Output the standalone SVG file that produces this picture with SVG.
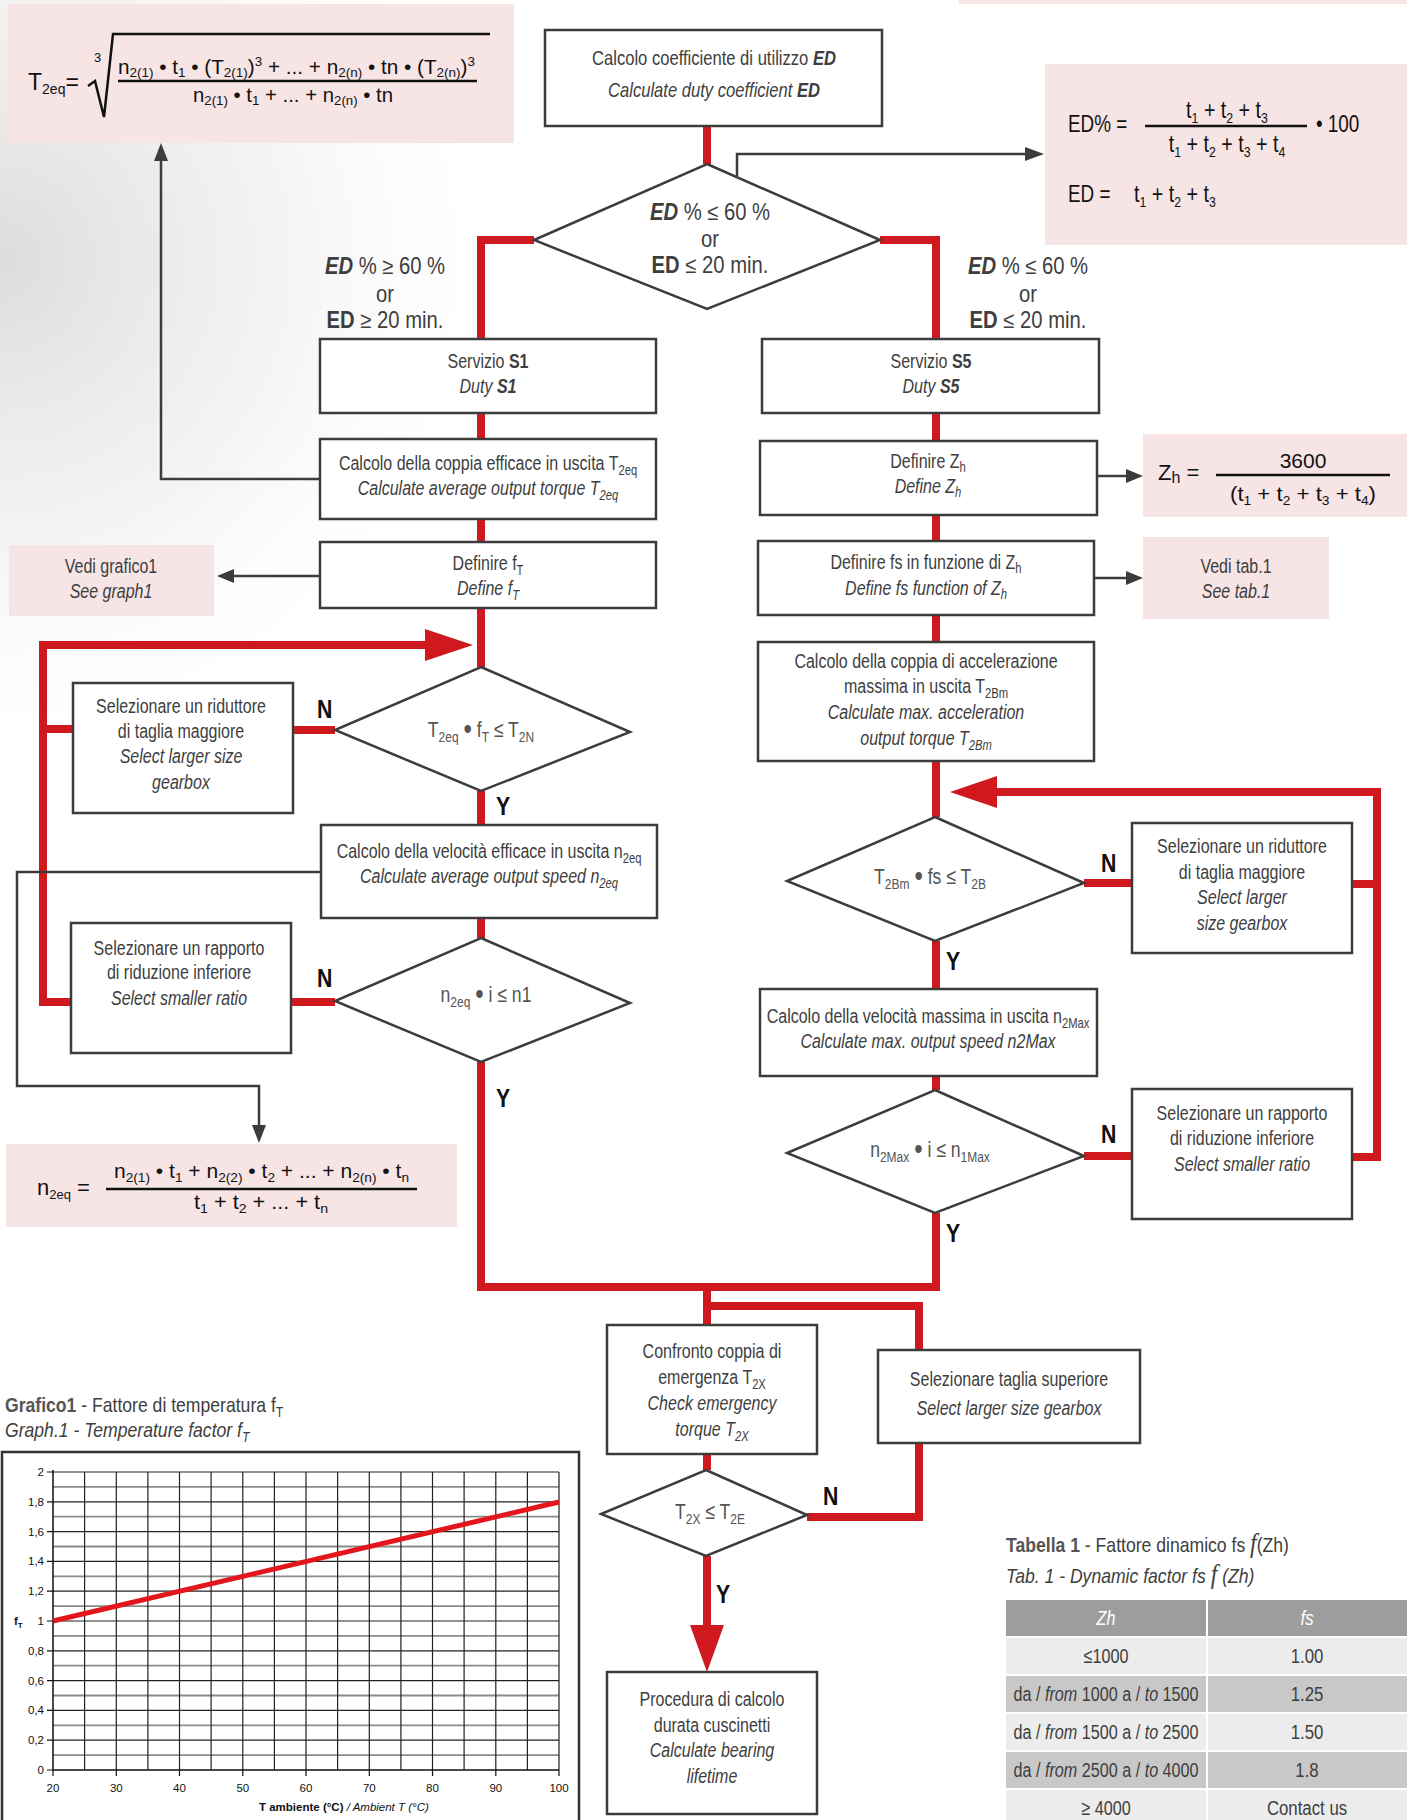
<svg xmlns="http://www.w3.org/2000/svg" width="1407" height="1820" viewBox="0 0 1407 1820">
<defs>
<radialGradient id="bg" cx="0" cy="260" r="520" gradientUnits="userSpaceOnUse">
<stop offset="0" stop-color="#dcdcdc"/>
<stop offset="0.55" stop-color="#ececec" stop-opacity="0.6"/>
<stop offset="1" stop-color="#ffffff" stop-opacity="0"/>
</radialGradient>
<style>
.t{font-family:"Liberation Sans",Arial,sans-serif;font-size:20px;fill:#3e3e3e;text-anchor:middle}
.ts{font-family:"Liberation Sans",Arial,sans-serif;font-size:20px;fill:#3e3e3e}
.d{font-size:22px;fill:#555}
.i{font-style:italic}
.b{font-weight:bold}
.bi{font-weight:bold;font-style:italic}
.s{font-size:14px}
.ds{font-size:15px}
.box{fill:#fff;stroke:#3c3c3c;stroke-width:2.5}
.pink{fill:#f7e4e5}
.red{fill:none;stroke:#d0181f;stroke-width:8}
.redf{fill:#d0181f}
.gl{fill:none;stroke:#3c3c3c;stroke-width:2.5}
.gf{fill:#3c3c3c}
.yn{font-family:"Liberation Sans",Arial,sans-serif;font-weight:bold;font-size:25px;fill:#111}
.f{font-family:"Liberation Sans",Arial,sans-serif;fill:#111}
.bar{stroke:#111;stroke-width:2.5}
.ax{font-family:"Liberation Sans",Arial,sans-serif;font-size:11.5px;fill:#111}
.gmaj{stroke:#222;stroke-width:1.2;fill:none}
.gmin{stroke:#8a8a8a;stroke-width:1.8;fill:none}
</style>
</defs>
<rect width="1407" height="1820" fill="#fff"/>
<rect x="0" y="0" width="560" height="800" fill="url(#bg)"/>
<rect class="pink" x="959" y="0" width="448" height="4"/>

<!-- T2eq formula -->
<g id="f-t2eq">
<rect class="pink" x="8" y="4" width="506" height="139"/>
<text class="f" x="28" y="90" font-size="23">T<tspan font-size="14" dy="4">2eq</tspan><tspan dy="-4">=</tspan></text>
<path d="M88,86 L95,81 L104,117 L113,34 L490,34" fill="none" stroke="#111" stroke-width="2.5"/>
<text class="f" x="94" y="62" font-size="13">3</text>
<text class="f" x="118" y="74" font-size="20" textLength="357" lengthAdjust="spacingAndGlyphs">n<tspan font-size="13" dy="3">2(1)</tspan><tspan dy="-3"> • t</tspan><tspan font-size="13" dy="3">1</tspan><tspan dy="-3"> • (T</tspan><tspan font-size="13" dy="3">2(1)</tspan><tspan dy="-3">)</tspan><tspan font-size="13" dy="-8">3</tspan><tspan dy="8"> + ... + n</tspan><tspan font-size="13" dy="3">2(n)</tspan><tspan dy="-3"> • tn • (T</tspan><tspan font-size="13" dy="3">2(n)</tspan><tspan dy="-3">)</tspan><tspan font-size="13" dy="-8">3</tspan></text>
<line class="bar" x1="118" y1="81" x2="477" y2="81"/>
<text class="f" x="193" y="102" font-size="20" textLength="200" lengthAdjust="spacingAndGlyphs">n<tspan font-size="13" dy="3">2(1)</tspan><tspan dy="-3"> • t</tspan><tspan font-size="13" dy="3">1</tspan><tspan dy="-3"> + ... + n</tspan><tspan font-size="13" dy="3">2(n)</tspan><tspan dy="-3"> • tn</tspan></text>
</g>

<!-- ED formula -->
<g id="f-ed">
<rect class="pink" x="1045" y="64" width="362" height="181"/>
<g transform="translate(1068 0) scale(0.82 1)">
<text class="f" y="132" font-size="23">ED% =</text>
<text class="f" y="202" font-size="23">ED =</text>
</g>
<g transform="translate(1227 0) scale(0.82 1)">
<text class="f" y="118" font-size="24" text-anchor="middle">t<tspan font-size="15" dy="5">1</tspan><tspan dy="-5"> + t</tspan><tspan font-size="15" dy="5">2</tspan><tspan dy="-5"> + t</tspan><tspan font-size="15" dy="5">3</tspan></text>
<text class="f" y="152" font-size="24" text-anchor="middle">t<tspan font-size="15" dy="5">1</tspan><tspan dy="-5"> + t</tspan><tspan font-size="15" dy="5">2</tspan><tspan dy="-5"> + t</tspan><tspan font-size="15" dy="5">3</tspan><tspan dy="-5"> + t</tspan><tspan font-size="15" dy="5">4</tspan></text>
</g>
<line class="bar" x1="1145" y1="126" x2="1307" y2="126"/>
<g transform="translate(1316 0) scale(0.82 1)">
<text class="f" y="132" font-size="23">• 100</text>
</g>
<g transform="translate(1134 0) scale(0.82 1)">
<text class="f" y="202" font-size="24">t<tspan font-size="15" dy="5">1</tspan><tspan dy="-5"> + t</tspan><tspan font-size="15" dy="5">2</tspan><tspan dy="-5"> + t</tspan><tspan font-size="15" dy="5">3</tspan></text>
</g>
</g>

<!-- Zh formula -->
<g id="f-zh">
<rect class="pink" x="1143" y="434" width="264" height="83"/>
<text class="f" x="1158" y="480" font-size="22">Z<tspan font-size="16" dy="3">h</tspan><tspan dy="-3"> =</tspan></text>
<text class="f" x="1303" y="468" font-size="21" text-anchor="middle">3600</text>
<line class="bar" x1="1216" y1="475" x2="1390" y2="475"/>
<text class="f" x="1230" y="501" font-size="21" textLength="146" lengthAdjust="spacingAndGlyphs">(t<tspan font-size="13" dy="4">1</tspan><tspan dy="-4"> + t</tspan><tspan font-size="13" dy="4">2</tspan><tspan dy="-4"> + t</tspan><tspan font-size="13" dy="4">3</tspan><tspan dy="-4"> + t</tspan><tspan font-size="13" dy="4">4</tspan><tspan dy="-4">)</tspan></text>
</g>

<!-- n2eq formula -->
<g id="f-n2eq">
<rect class="pink" x="6" y="1144" width="451" height="83"/>
<text class="f" x="37" y="1195" font-size="22">n<tspan font-size="13" dy="4">2eq</tspan><tspan dy="-4"> =</tspan></text>
<text class="f" x="114" y="1178" font-size="20" textLength="295" lengthAdjust="spacingAndGlyphs">n<tspan font-size="13" dy="4">2(1)</tspan><tspan dy="-4"> • t</tspan><tspan font-size="13" dy="4">1</tspan><tspan dy="-4"> + n</tspan><tspan font-size="13" dy="4">2(2)</tspan><tspan dy="-4"> • t</tspan><tspan font-size="13" dy="4">2</tspan><tspan dy="-4"> + ... + n</tspan><tspan font-size="13" dy="4">2(n)</tspan><tspan dy="-4"> • t</tspan><tspan font-size="13" dy="4">n</tspan></text>
<line class="bar" x1="106" y1="1189" x2="417" y2="1189"/>
<text class="f" x="194" y="1209" font-size="20" textLength="134" lengthAdjust="spacingAndGlyphs">t<tspan font-size="13" dy="4">1</tspan><tspan dy="-4"> + t</tspan><tspan font-size="13" dy="4">2</tspan><tspan dy="-4"> + ... + t</tspan><tspan font-size="13" dy="4">n</tspan></text>
</g>

<!-- connectors -->
<g id="connectors">
<path class="red" d="M707,126 V164"/>
<path class="red" d="M534,240 H481 V339"/>
<path class="red" d="M880,240 H936 V339"/>
<path class="red" d="M481,413 V439 M481,519 V542 M481,608 V667 M481,791 V825 M481,918 V938"/>
<path class="red" d="M481,1062 V1287 H936 V1213"/>
<path class="red" d="M936,413 V441 M936,515 V541 M936,615 V642 M936,761 V817 M936,941 V989 M936,1076 V1090"/>
<path class="red" d="M335,730 H293 M73,729 H43 M335,1002 H291 M71,1002 H43 V645 H428"/>
<polygon class="redf" points="425,629 473,645 425,661"/>
<path class="red" d="M1084,883 H1132 M1352,884 H1377 M1084,1156 H1132 M1352,1157 H1377 V792 H994"/>
<polygon class="redf" points="997,776 950,792 997,808"/>
<path class="red" d="M707,1287 V1325 M707,1306 H919 V1350 M919,1443 V1517 H807 M707,1454 V1470 M707,1556 V1628"/>
<polygon class="redf" points="690,1625 707,1672 724,1625"/>

<path class="gl" d="M737,176 V154 H1027"/>
<polygon class="gf" points="1025,147 1044,154 1025,161"/>
<path class="gl" d="M320,479 H161 V160"/>
<polygon class="gf" points="154,161 161,143 168,161"/>
<path class="gl" d="M320,576 H232"/>
<polygon class="gf" points="234,569 217,576 234,583"/>
<path class="gl" d="M1097,476 H1128"/>
<polygon class="gf" points="1126,469 1143,476 1126,483"/>
<path class="gl" d="M1094,578 H1128"/>
<polygon class="gf" points="1126,571 1143,578 1126,585"/>
<path class="gl" d="M321,872 H17 V1086 H259 V1127"/>
<polygon class="gf" points="252,1125 259,1143 266,1125"/>

<g transform="translate(317 0) scale(0.85 1)"><text class="yn" y="718">N</text><text class="yn" y="987">N</text></g>
<g transform="translate(496 0) scale(0.85 1)"><text class="yn" y="815">Y</text><text class="yn" y="1107">Y</text></g>
<g transform="translate(1101 0) scale(0.85 1)"><text class="yn" y="872">N</text><text class="yn" y="1143">N</text></g>
<g transform="translate(946 0) scale(0.85 1)"><text class="yn" y="970">Y</text><text class="yn" y="1242">Y</text></g>
<g transform="translate(823 0) scale(0.85 1)"><text class="yn" y="1505">N</text></g>
<g transform="translate(716 0) scale(0.85 1)"><text class="yn" y="1603">Y</text></g>
</g>

<!-- nodes -->
<g id="n-ed">
<rect class="box" x="545" y="30" width="337" height="96"/>
<g transform="translate(714 0) scale(0.83 1)">
<text class="t" y="65">Calcolo coefficiente di utilizzo <tspan class="bi">ED</tspan></text>
<text class="t i" y="97">Calculate duty coefficient <tspan class="b">ED</tspan></text>
</g>
</g>

<g id="d-ed">
<polygon class="box" points="707,164 880,240 707,309 534,240"/>
<g transform="translate(710 0) scale(0.88 1)">
<text class="t" style="font-size:23px" y="220"><tspan class="bi">ED</tspan> % ≤ 60 %</text>
<text class="t" style="font-size:23px" y="247">or</text>
<text class="t" style="font-size:23px" y="273"><tspan class="b">ED</tspan> ≤ 20 min.</text>
</g>
</g>

<g id="lbl-left">
<g transform="translate(385 0) scale(0.88 1)">
<text class="t" style="font-size:23px" y="274"><tspan class="bi">ED</tspan> % ≥ 60 %</text>
<text class="t" style="font-size:23px" y="302">or</text>
<text class="t" style="font-size:23px" y="328"><tspan class="b">ED</tspan> ≥ 20 min.</text>
</g>
</g>
<g id="lbl-right">
<g transform="translate(1028 0) scale(0.88 1)">
<text class="t" style="font-size:23px" y="274"><tspan class="bi">ED</tspan> % ≤ 60 %</text>
<text class="t" style="font-size:23px" y="302">or</text>
<text class="t" style="font-size:23px" y="328"><tspan class="b">ED</tspan> ≤ 20 min.</text>
</g>
</g>

<g id="n-s1">
<rect class="box" x="320" y="339" width="336" height="74"/>
<g transform="translate(488 0) scale(0.8 1)">
<text class="t" y="368">Servizio <tspan class="b">S1</tspan></text>
<text class="t i" y="393">Duty <tspan class="b">S1</tspan></text>
</g>
</g>

<g id="n-s5">
<rect class="box" x="762" y="339" width="337" height="74"/>
<g transform="translate(931 0) scale(0.8 1)">
<text class="t" y="368">Servizio <tspan class="b">S5</tspan></text>
<text class="t i" y="393">Duty <tspan class="b">S5</tspan></text>
</g>
</g>

<g id="n-t2eq">
<rect class="box" x="320" y="439" width="336" height="80"/>
<g transform="translate(488 0) scale(0.8 1)">
<text class="t" y="470">Calcolo della coppia efficace in uscita T<tspan class="s" dy="5">2eq</tspan></text>
<text class="t i" y="495">Calculate average output torque T<tspan class="s" dy="5">2eq</tspan></text>
</g>
</g>

<g id="n-zh">
<rect class="box" x="760" y="441" width="337" height="74"/>
<g transform="translate(928 0) scale(0.8 1)">
<text class="t" y="468">Definire Z<tspan class="s" dy="4">h</tspan></text>
<text class="t i" y="493">Define Z<tspan class="s" dy="4">h</tspan></text>
</g>
</g>

<g id="n-ft">
<rect class="box" x="320" y="542" width="336" height="66"/>
<g transform="translate(488 0) scale(0.8 1)">
<text class="t" y="570">Definire f<tspan class="s" dy="5">T</tspan></text>
<text class="t i" y="595">Define f<tspan class="s" dy="5">T</tspan></text>
</g>
</g>

<g id="n-fs">
<rect class="box" x="758" y="541" width="336" height="74"/>
<g transform="translate(926 0) scale(0.8 1)">
<text class="t" y="569">Definire fs in funzione di Z<tspan class="s" dy="4">h</tspan></text>
<text class="t i" y="595">Define fs function of Z<tspan class="s" dy="4">h</tspan></text>
</g>
</g>

<g id="n-graph-ref">
<rect class="pink" x="9" y="545" width="205" height="71"/>
<g transform="translate(111 0) scale(0.8 1)">
<text class="t" y="573">Vedi grafico1</text>
<text class="t i" y="598">See graph1</text>
</g>
</g>

<g id="n-tab-ref">
<rect class="pink" x="1143" y="537" width="186" height="82"/>
<g transform="translate(1236 0) scale(0.8 1)">
<text class="t" y="573">Vedi tab.1</text>
<text class="t i" y="598">See tab.1</text>
</g>
</g>

<g id="n-accel">
<rect class="box" x="758" y="642" width="336" height="119"/>
<g transform="translate(926 0) scale(0.8 1)">
<text class="t" y="668">Calcolo della coppia di accelerazione</text>
<text class="t" y="693">massima in uscita T<tspan class="s" dy="5">2Bm</tspan></text>
<text class="t i" y="719">Calculate max. acceleration</text>
<text class="t i" y="745">output torque T<tspan class="s" dy="5">2Bm</tspan></text>
</g>
</g>

<g id="n-larger-l">
<rect class="box" x="73" y="683" width="220" height="130"/>
<g transform="translate(181 0) scale(0.8 1)">
<text class="t" y="713">Selezionare un riduttore</text>
<text class="t" y="738">di taglia maggiore</text>
<text class="t i" y="763">Select larger size</text>
<text class="t i" y="789">gearbox</text>
</g>
</g>

<g id="d-t2n">
<polygon class="box" points="481,667 630,732 481,791 335,730"/>
<g transform="translate(481 0) scale(0.8 1)">
<text class="t d" y="737">T<tspan class="ds" dy="5">2eq</tspan><tspan dy="-5"> </tspan><tspan font-size="30" dy="2">•</tspan><tspan dy="-2"> f</tspan><tspan class="ds" dy="5">T</tspan><tspan dy="-5"> ≤ T</tspan><tspan class="ds" dy="5">2N</tspan></text>
</g>
</g>

<g id="n-n2eq">
<rect class="box" x="321" y="825" width="336" height="93"/>
<g transform="translate(489 0) scale(0.8 1)">
<text class="t" y="858">Calcolo della velocità efficace in uscita n<tspan class="s" dy="5">2eq</tspan></text>
<text class="t i" y="883">Calculate average output speed n<tspan class="s" dy="5">2eq</tspan></text>
</g>
</g>

<g id="n-ratio-l">
<rect class="box" x="71" y="923" width="220" height="130"/>
<g transform="translate(179 0) scale(0.8 1)">
<text class="t" y="955">Selezionare un rapporto</text>
<text class="t" y="979">di riduzione inferiore</text>
<text class="t i" y="1005">Select smaller ratio</text>
</g>
</g>

<g id="d-n1">
<polygon class="box" points="481,938 630,1003 481,1062 335,1001"/>
<g transform="translate(486 0) scale(0.8 1)">
<text class="t d" y="1002">n<tspan class="ds" dy="5">2eq</tspan><tspan dy="-5"> </tspan><tspan font-size="30" dy="2">•</tspan><tspan dy="-2"> i ≤ n1</tspan></text>
</g>
</g>

<g id="n-larger-r">
<rect class="box" x="1132" y="823" width="220" height="130"/>
<g transform="translate(1242 0) scale(0.8 1)">
<text class="t" y="853">Selezionare un riduttore</text>
<text class="t" y="879">di taglia maggiore</text>
<text class="t i" y="904">Select larger</text>
<text class="t i" y="930">size gearbox</text>
</g>
</g>

<g id="d-t2b">
<polygon class="box" points="935,817 1084,883 935,941 787,881"/>
<g transform="translate(930 0) scale(0.8 1)">
<text class="t d" y="884">T<tspan class="ds" dy="5">2Bm</tspan><tspan dy="-5"> </tspan><tspan font-size="30" dy="2">•</tspan><tspan dy="-2"> fs ≤ T</tspan><tspan class="ds" dy="5">2B</tspan></text>
</g>
</g>

<g id="n-n2max">
<rect class="box" x="760" y="989" width="337" height="87"/>
<g transform="translate(928 0) scale(0.8 1)">
<text class="t" y="1023">Calcolo della velocità massima in uscita n<tspan class="s" dy="5">2Max</tspan></text>
<text class="t i" y="1048">Calculate max. output speed n2Max</text>
</g>
</g>

<g id="d-n1max">
<polygon class="box" points="935,1090 1084,1156 935,1213 787,1153"/>
<g transform="translate(930 0) scale(0.8 1)">
<text class="t d" y="1157">n<tspan class="ds" dy="5">2Max</tspan><tspan dy="-5"> </tspan><tspan font-size="30" dy="2">•</tspan><tspan dy="-2"> i ≤ n</tspan><tspan class="ds" dy="5">1Max</tspan></text>
</g>
</g>

<g id="n-ratio-r">
<rect class="box" x="1132" y="1089" width="220" height="130"/>
<g transform="translate(1242 0) scale(0.8 1)">
<text class="t" y="1120">Selezionare un rapporto</text>
<text class="t" y="1145">di riduzione inferiore</text>
<text class="t i" y="1171">Select smaller ratio</text>
</g>
</g>

<g id="n-t2x">
<rect class="box" x="607" y="1325" width="210" height="129"/>
<g transform="translate(712 0) scale(0.8 1)">
<text class="t" y="1358">Confronto coppia di</text>
<text class="t" y="1384">emergenza T<tspan class="s" dy="5">2X</tspan></text>
<text class="t i" y="1410">Check emergency</text>
<text class="t i" y="1436">torque T<tspan class="s" dy="5">2X</tspan></text>
</g>
</g>

<g id="n-upper">
<rect class="box" x="878" y="1350" width="262" height="93"/>
<g transform="translate(1009 0) scale(0.8 1)">
<text class="t" y="1386">Selezionare taglia superiore</text>
<text class="t i" y="1415">Select larger size gearbox</text>
</g>
</g>

<g id="d-t2e">
<polygon class="box" points="706,1470 807,1515 706,1556 601,1514"/>
<g transform="translate(710 0) scale(0.8 1)">
<text class="t d" y="1519">T<tspan class="ds" dy="5">2X</tspan><tspan dy="-5"> ≤ T</tspan><tspan class="ds" dy="5">2E</tspan></text>
</g>
</g>

<g id="n-bearing">
<rect class="box" x="607" y="1672" width="210" height="142"/>
<g transform="translate(712 0) scale(0.8 1)">
<text class="t" y="1706">Procedura di calcolo</text>
<text class="t" y="1732">durata cuscinetti</text>
<text class="t i" y="1757">Calculate bearing</text>
<text class="t i" y="1783">lifetime</text>
</g>
</g>

<!-- graph -->
<g id="graph">
<g transform="translate(5 0) scale(0.88 1)">
<text class="ts" y="1412"><tspan font-weight="bold" fill="#555">Grafico1</tspan> - Fattore di temperatura f<tspan class="s" dy="5">T</tspan></text>
<text class="ts i" y="1437"><tspan>Graph.1</tspan> - Temperature factor f<tspan class="s" dy="5">T</tspan></text>
</g>
<rect x="2" y="1452" width="577" height="400" fill="#fff" stroke="#333" stroke-width="2.5"/>
<path class="gmin" d="M53,1755.1H559M53,1725.3H559M53,1695.5H559M53,1665.7H559M53,1635.9H559M53,1606.1H559M53,1576.3H559M53,1546.5H559M53,1516.7H559M53,1486.9H559"/>
<path class="gmaj" d="M53,1740.2H559M53,1710.4H559M53,1680.6H559M53,1650.8H559M53,1621H559M53,1591.2H559M53,1561.4H559M53,1531.6H559M53,1501.8H559M53,1472H559"/>
<path class="gmaj" d="M84.6,1472V1770M116.3,1472V1770M147.9,1472V1770M179.5,1472V1770M211.1,1472V1770M242.8,1472V1770M274.4,1472V1770M306,1472V1770M337.6,1472V1770M369.3,1472V1770M400.9,1472V1770M432.5,1472V1770M464.1,1472V1770M495.8,1472V1770M527.4,1472V1770M559,1472V1770"/>
<path d="M53,1470V1770H559" fill="none" stroke="#111" stroke-width="1.5"/>
<path d="M47,1472H53M47,1501.8H53M47,1531.6H53M47,1561.4H53M47,1591.2H53M47,1621H53M47,1650.8H53M47,1680.6H53M47,1710.4H53M47,1740.2H53M47,1770H53M53,1770V1776M116.3,1770V1776M179.5,1770V1776M242.8,1770V1776M306,1770V1776M369.3,1770V1776M432.5,1770V1776M495.8,1770V1776M559,1770V1776" fill="none" stroke="#111" stroke-width="1.2"/>
<g class="ax" text-anchor="end">
<text x="44" y="1476">2</text>
<text x="44" y="1506">1,8</text>
<text x="44" y="1536">1,6</text>
<text x="44" y="1565">1,4</text>
<text x="44" y="1595">1,2</text>
<text x="44" y="1625">1</text>
<text x="44" y="1655">0,8</text>
<text x="44" y="1685">0,6</text>
<text x="44" y="1714">0,4</text>
<text x="44" y="1744">0,2</text>
<text x="44" y="1774">0</text>
</g>
<text class="ax" x="14" y="1625" font-weight="bold" font-size="11">f<tspan font-size="8" dy="3">T</tspan></text>
<g class="ax" text-anchor="middle">
<text x="53" y="1792">20</text>
<text x="116.3" y="1792">30</text>
<text x="179.5" y="1792">40</text>
<text x="242.8" y="1792">50</text>
<text x="306" y="1792">60</text>
<text x="369.3" y="1792">70</text>
<text x="432.5" y="1792">80</text>
<text x="495.8" y="1792">90</text>
<text x="559" y="1792">100</text>
</g>
<text class="ax" x="259" y="1811"><tspan font-weight="bold">T ambiente (°C)</tspan><tspan font-style="italic"> / Ambient T (°C)</tspan></text>
<line x1="53" y1="1621" x2="559" y2="1502" stroke="#e3161c" stroke-width="5"/>
</g>

<!-- table -->
<g id="table">
<g transform="translate(1006 0) scale(0.88 1)">
<text class="ts" y="1552"><tspan font-weight="bold" fill="#555">Tabella 1</tspan> - Fattore dinamico fs <tspan font-family="Liberation Serif" font-style="italic" font-size="27">f</tspan>(Zh)</text>
<text class="ts i" y="1583">Tab. 1 - Dynamic factor fs <tspan font-family="Liberation Serif" font-size="27">f</tspan> (Zh)</text>
</g>
<rect x="1006" y="1600" width="200" height="36" fill="#9d9d9d"/>
<rect x="1208" y="1600" width="199" height="36" fill="#9d9d9d"/>
<rect x="1006" y="1638" width="200" height="36" fill="#ececec"/>
<rect x="1208" y="1638" width="199" height="36" fill="#ececec"/>
<rect x="1006" y="1676" width="200" height="36" fill="#c8c8c8"/>
<rect x="1208" y="1676" width="199" height="36" fill="#c8c8c8"/>
<rect x="1006" y="1714" width="200" height="36" fill="#ececec"/>
<rect x="1208" y="1714" width="199" height="36" fill="#ececec"/>
<rect x="1006" y="1752" width="200" height="36" fill="#c8c8c8"/>
<rect x="1208" y="1752" width="199" height="36" fill="#c8c8c8"/>
<rect x="1006" y="1790" width="200" height="40" fill="#ececec"/>
<rect x="1208" y="1790" width="199" height="40" fill="#ececec"/>
<g transform="translate(1106 0) scale(0.77 1)">
<text class="t i" y="1625" style="fill:#fff;font-size:21px">Zh</text>
<text class="t" y="1663" style="font-size:21px">≤1000</text>
<text class="t" y="1701" style="font-size:21px">da / <tspan class="i">from</tspan> 1000 a / <tspan class="i">to</tspan> 1500</text>
<text class="t" y="1739" style="font-size:21px">da / <tspan class="i">from</tspan> 1500 a / <tspan class="i">to</tspan> 2500</text>
<text class="t" y="1777" style="font-size:21px">da / <tspan class="i">from</tspan> 2500 a / <tspan class="i">to</tspan> 4000</text>
<text class="t" y="1815" style="font-size:21px">≥ 4000</text>
</g>
<g transform="translate(1307 0) scale(0.8 1)">
<text class="t i" y="1625" style="fill:#fff;font-size:21px">fs</text>
<text class="t" y="1663" style="font-size:21px">1.00</text>
<text class="t" y="1701" style="font-size:21px">1.25</text>
<text class="t" y="1739" style="font-size:21px">1.50</text>
<text class="t" y="1777" style="font-size:21px">1.8</text>
<text class="t" y="1815" style="font-size:21px">Contact us</text>
</g>
</g>
</svg>
